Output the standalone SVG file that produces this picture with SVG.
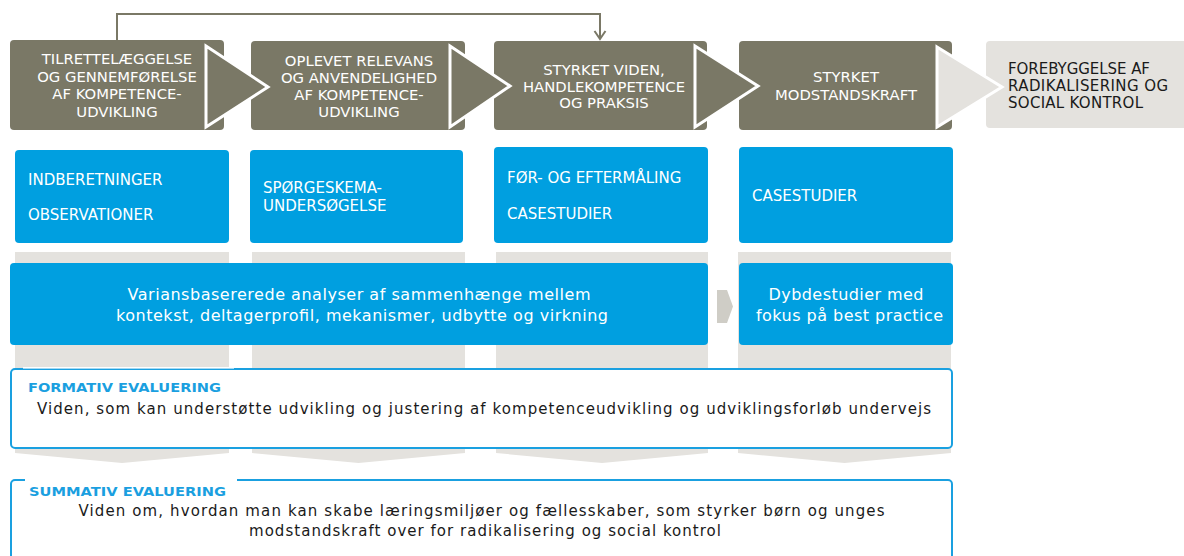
<svg xmlns="http://www.w3.org/2000/svg" width="1184" height="556" viewBox="0 0 1184 556">
<style>
.olive{fill:#7a7866}
.lg{fill:#e4e2de}
.blue{fill:#009fe0}
.chev{stroke:#ffffff;stroke-width:3;stroke-linejoin:miter}
.t{font-family:"DejaVu Sans",Verdana,sans-serif}
.tw{font-family:"DejaVu Sans",Verdana,sans-serif;fill:#ffffff;font-size:14.8px}
.tm{font-family:"DejaVu Sans",Verdana,sans-serif;fill:#ffffff;font-size:15px}
.tc{text-anchor:middle}
.tb{font-family:"DejaVu Sans",Verdana,sans-serif;fill:#1a1a1a;font-size:15px}
.lbl{font-family:"DejaVu Sans",Verdana,sans-serif;fill:#1a9fe0;font-size:13px;font-weight:bold}
.frame{fill:#ffffff;stroke:#1aa0e0;stroke-width:2}
.conn{fill:none;stroke:#7a7866;stroke-width:2}
</style>
<rect width="1184" height="556" fill="#ffffff"/>

<g id="columns">
<path class="lg" d="M15,252 H229 V453 L122,463 L15,453 Z"/>
<path class="lg" d="M252,252 H465 V453 L358.5,463 L252,453 Z"/>
<path class="lg" d="M496,252 H708 V453 L602,463 L496,453 Z"/>
<path class="lg" d="M738,252 H951 V453 L844.5,463 L738,453 Z"/>
</g>

<g id="connectors">
<path class="conn" d="M117,40 V14 H600 V38"/>
<path class="conn" d="M594.5,31 L600,39 L605.5,31"/>
</g>

<g id="step5">
<rect class="lg" x="986" y="41" width="204" height="87" rx="4"/>
<text class="t" font-size="15" fill="#1a1a1a"><tspan x="1008" y="74" textLength="142" lengthAdjust="spacing">FOREBYGGELSE AF</tspan><tspan x="1008" y="91" textLength="160" lengthAdjust="spacing">RADIKALISERING OG</tspan><tspan x="1008" y="108" textLength="135" lengthAdjust="spacing">SOCIAL KONTROL</tspan></text>
</g>
<g id="step4">
<rect class="olive" x="739" y="41" width="213" height="89" rx="4"/>
<text class="tw tc"><tspan x="846" y="82">STYRKET</tspan><tspan x="846" y="100">MODSTANDSKRAFT</tspan></text>
<path class="lg chev" d="M937,47 L1002,87 L937,127 Z"/>
</g>
<g id="step3">
<rect class="olive" x="494" y="41" width="213" height="89" rx="4"/>
<text class="tw tc"><tspan x="604" y="75">STYRKET VIDEN,</tspan><tspan x="604" y="92">HANDLEKOMPETENCE</tspan><tspan x="604" y="108">OG PRAKSIS</tspan></text>
<path class="olive chev" d="M695,46 L758,86 L695,127 Z"/>
</g>
<g id="step2">
<rect class="olive" x="251" y="41" width="214" height="89" rx="4"/>
<text class="tw tc"><tspan x="359" y="66">OPLEVET RELEVANS</tspan><tspan x="359" y="83">OG ANVENDELIGHED</tspan><tspan x="359" y="100">AF KOMPETENCE-</tspan><tspan x="359" y="117">UDVIKLING</tspan></text>
<path class="olive chev" d="M450,46 L510,86 L450,127 Z"/>
</g>
<g id="step1">
<rect class="olive" x="10" y="40" width="214" height="90" rx="4"/>
<text class="tw tc"><tspan x="117" y="64">TILRETTELÆGGELSE</tspan><tspan x="117" y="81.5">OG GENNEMFØRELSE</tspan><tspan x="117" y="99">AF KOMPETENCE-</tspan><tspan x="117" y="116.5">UDVIKLING</tspan></text>
<path class="olive chev" d="M206,46 L268,87 L206,127 Z"/>
</g>

<g id="method1">
<rect class="blue" x="15" y="150" width="214" height="93" rx="4"/>
<text class="tm"><tspan x="28" y="185">INDBERETNINGER</tspan><tspan x="28" y="220">OBSERVATIONER</tspan></text>
</g>
<g id="method2">
<rect class="blue" x="250" y="150" width="213" height="93" rx="4"/>
<text class="tm"><tspan x="263" y="193">SPØRGESKEMA-</tspan><tspan x="263" y="211">UNDERSØGELSE</tspan></text>
</g>
<g id="method3">
<rect class="blue" x="494" y="147" width="214" height="96" rx="4"/>
<text class="tm"><tspan x="507" y="183">FØR- OG EFTERMÅLING</tspan><tspan x="507" y="219">CASESTUDIER</tspan></text>
</g>
<g id="method4">
<rect class="blue" x="739" y="147" width="214" height="96" rx="4"/>
<text class="tm" x="752" y="201">CASESTUDIER</text>
</g>

<g id="analysis">
<rect class="blue" x="10" y="263" width="698" height="82" rx="4"/>
<text class="t tc" font-size="16" fill="#ffffff"><tspan x="359" y="300" textLength="463" lengthAdjust="spacing">Variansbasererede analyser af sammenhænge mellem</tspan><tspan x="362" y="321" textLength="492" lengthAdjust="spacing">kontekst, deltagerprofil, mekanismer, udbytte og virkning</tspan></text>
</g>
<g id="arrow-small">
<path fill="#cfcdc6" d="M717,290 H727 L733,306.5 L727,323 H717 Z"/>
</g>
<g id="deep">
<rect class="blue" x="739" y="263" width="214" height="82" rx="4"/>
<text class="t tc" font-size="16" fill="#ffffff"><tspan x="846" y="300" textLength="155" lengthAdjust="spacing">Dybdestudier med</tspan><tspan x="849.5" y="321" textLength="187" lengthAdjust="spacing">fokus på best practice</tspan></text>
</g>

<g id="formativ">
<rect class="frame" x="11" y="369" width="941" height="79" rx="4"/>
<rect x="23" y="367" width="211" height="1.6" fill="#ffffff"/>
<text class="lbl" x="28" y="392" textLength="193" lengthAdjust="spacingAndGlyphs">FORMATIV EVALUERING</text>
<text class="tb" x="37" y="414" textLength="894" lengthAdjust="spacing">Viden, som kan understøtte udvikling og justering af kompetenceudvikling og udviklingsforløb undervejs</text>
</g>

<g id="summativ">
<rect class="frame" x="11" y="480" width="941" height="100" rx="4"/>
<rect x="25" y="477" width="212" height="6" fill="#ffffff"/>
<text class="lbl" x="29" y="496" textLength="197" lengthAdjust="spacingAndGlyphs">SUMMATIV EVALUERING</text>
<text class="tb"><tspan x="78.5" y="516" textLength="806" lengthAdjust="spacing">Viden om, hvordan man kan skabe læringsmiljøer og fællesskaber, som styrker børn og unges</tspan><tspan x="249" y="536" textLength="472" lengthAdjust="spacing">modstandskraft over for radikalisering og social kontrol</tspan></text>
</g>
</svg>
